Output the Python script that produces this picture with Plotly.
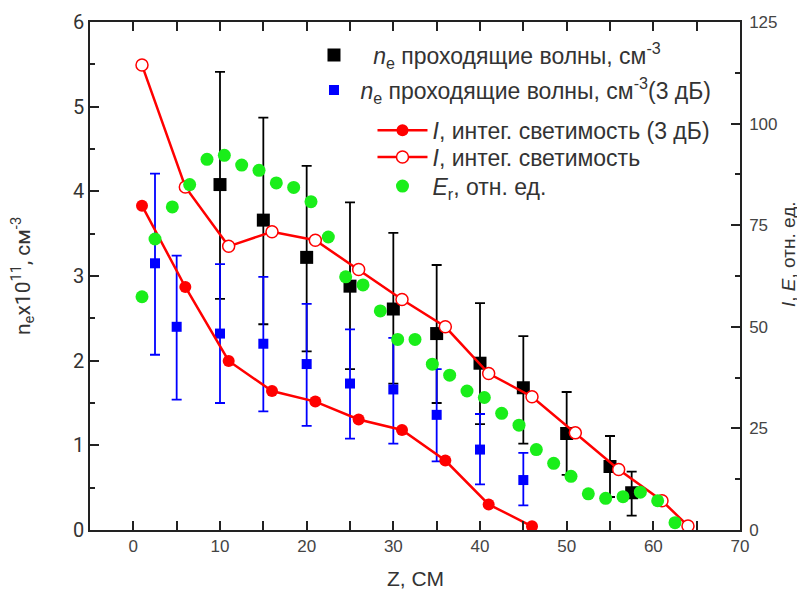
import plotly.graph_objects as go

# ---- data ----
# n_e transmitted waves (black), left axis
ne_x = [10, 15, 20, 25, 30, 35, 40, 45, 50, 55, 57.5]
ne_y = [4.08, 3.66, 3.22, 2.88, 2.61, 2.32, 1.97, 1.68, 1.14, 0.75, 0.44]
ne_err_plus = [1.33, 1.21, 1.08, 0.99, 0.90, 0.81, 0.71, 0.61, 0.49, 0.36, 0.25]
ne_err_minus = [1.35, 1.23, 1.11, 0.98, 0.88, 0.82, 0.72, 0.66, 0.49, 0.36, 0.27]

# n_e transmitted waves (3 dB) (blue), left axis
ne3_x = [2.5, 5, 10, 15, 20, 25, 30, 35, 40, 45]
ne3_y = [3.15, 2.40, 2.32, 2.20, 1.96, 1.73, 1.66, 1.36, 0.95, 0.59]
ne3_err_plus = [1.06, 0.84, 0.82, 0.79, 0.71, 0.64, 0.61, 0.54, 0.42, 0.32]
ne3_err_minus = [1.08, 0.86, 0.82, 0.80, 0.73, 0.65, 0.64, 0.55, 0.41, 0.30]

# I, integrated luminosity (3 dB) (red filled), right axis
i3_x = [1, 6, 11, 16, 21, 26, 31, 36, 41, 46]
i3_y = [79.8, 59.8, 41.6, 34.2, 31.6, 27.2, 24.6, 17.1, 6.3, 0.9]

# I, integrated luminosity (red open), right axis
i_x = [1, 6, 11, 16, 21, 26, 31, 36, 41, 46, 51, 56, 61, 64]
i_y = [114.4, 84.4, 69.8, 73.4, 71.3, 64.1, 56.7, 50.0, 38.5, 32.8, 23.9, 14.9, 7.2, 1.0]

# E_r, relative units (green), right axis
e_x = [1, 2.5, 4.5, 6.5, 8.5, 10.5, 12.5, 14.5, 16.5, 18.5, 20.5, 22.5, 24.5,
       26.5, 28.5, 30.5, 32.5, 34.5, 36.5, 38.5, 40.5, 42.5, 44.5, 46.5, 48.5,
       50.5, 52.5, 54.5, 56.5, 58.5, 60.5, 62.5]
e_y = [57.4, 71.6, 79.5, 85.0, 91.2, 92.2, 89.8, 88.5, 85.4, 84.3, 80.8, 72.1, 62.3,
       60.3, 53.9, 46.9, 46.9, 40.8, 38.1, 34.2, 32.6, 28.7, 25.8, 19.8, 16.4,
       13.2, 8.9, 7.8, 8.2, 9.3, 7.2, 1.8]

x_ticks = [0, 10, 20, 30, 40, 50, 60, 70]
left_ticks = [0, 1, 2, 3, 4, 5, 6]
right_ticks = [0, 25, 50, 75, 100, 125]

LEG_FONT = dict(family="Liberation Sans, Arial, sans-serif", size=23, color="#333333")
AX = "#222222"

fig = go.Figure()

fig.add_trace(go.Scatter(
    x=ne_x, y=ne_y, mode="markers",
    name="   <i>n</i><sub>e</sub> проходящие волны, см<sup>-3</sup>",
    marker=dict(symbol="square", size=13, color="black"),
    error_y=dict(type="data", symmetric=False, array=ne_err_plus, arrayminus=ne_err_minus,
                 color="black", thickness=1.8, width=5),
    legend="legend",
))

fig.add_trace(go.Scatter(
    x=ne3_x, y=ne3_y, mode="markers",
    name=" <i>n</i><sub>e</sub> проходящие волны, см<sup>-3</sup>(3 дБ)",
    marker=dict(symbol="square", size=10, color="#0000ff"),
    error_y=dict(type="data", symmetric=False, array=ne3_err_plus, arrayminus=ne3_err_minus,
                 color="#0000ff", thickness=1.8, width=5),
    legend="legend2",
))

fig.add_trace(go.Scatter(
    x=i3_x, y=i3_y, mode="lines+markers", yaxis="y2",
    name="<i>I</i>, интег. светимость (3 дБ)",
    line=dict(color="#ff0000", width=2.5),
    marker=dict(symbol="circle", size=12, color="#ff0000"),
    legend="legend3",
))

fig.add_trace(go.Scatter(
    x=i_x, y=i_y, mode="lines+markers", yaxis="y2",
    name="<i>I</i>, интег. светимость",
    line=dict(color="#ff0000", width=2.5),
    marker=dict(symbol="circle", size=12, color="white", line=dict(color="#ff0000", width=1.5)),
    legend="legend4",
))

fig.add_trace(go.Scatter(
    x=e_x, y=e_y, mode="markers", yaxis="y2",
    name="<i>E</i><sub>r</sub>, отн. ед.",
    marker=dict(symbol="circle", size=13, color="#1aee1a"),
    legend="legend5",
))

axis_line = dict(showline=True, linecolor=AX, linewidth=1.5, showgrid=False, zeroline=False,
                 automargin=False)


def leg(x, y, w=30):
    return dict(x=x, y=y, xanchor="left", yanchor="middle", bgcolor="rgba(0,0,0,0)",
                font=LEG_FONT, itemwidth=w, borderwidth=0)


# page body has an 8px margin: figure is 797x591 so plot area lands at x 90..740, y 22..530
fig.update_layout(
    width=797, height=591,
    margin=dict(l=82, r=65, t=14, b=69, autoexpand=False),
    paper_bgcolor="white", plot_bgcolor="white",
    showlegend=True,
    xaxis=dict(
        range=[-5, 70], tickvals=x_ticks, ticks="inside", ticklen=9, tickwidth=1.5,
        tickcolor=AX, mirror="ticks",
        minor=dict(dtick=5, tick0=0, ticks="inside", ticklen=9, tickwidth=1.5, tickcolor=AX),
        tickfont=dict(family="Liberation Sans Narrow, Liberation Sans, Arial, sans-serif", size=17, color="#444444"),
        **axis_line,
    ),
    yaxis=dict(
        range=[0, 6], tickvals=left_ticks, ticks="inside", ticklen=9, tickwidth=1.5,
        tickcolor=AX,
        minor=dict(dtick=0.5, tick0=0, ticks="inside", ticklen=5, tickwidth=1.5, tickcolor=AX),
        tickfont=dict(family="Roboto, sans-serif", size=20, color="#333333"),
        **axis_line,
    ),
    yaxis2=dict(
        range=[0, 125], tickvals=right_ticks, overlaying="y", side="right",
        ticks="inside", ticklen=9, tickwidth=1.5, tickcolor=AX,
        minor=dict(dtick=12.5, tick0=0, ticks="inside", ticklen=5, tickwidth=1.5, tickcolor=AX),
        tickfont=dict(family="Liberation Sans, Arial, sans-serif", size=17, color="#444444"),
        ticklabelstandoff=4,
        **axis_line,
    ),
    legend=leg(0.3446, 0.935),
    legend2=leg(0.3446, 0.866),
    legend3=leg(0.4346, 0.787, 50),
    legend4=leg(0.4346, 0.734, 50),
    legend5=leg(0.4346, 0.677, 50),
    annotations=[
        dict(text="Z, СМ", xref="paper", yref="paper", x=0.5, y=-0.0945,
             xanchor="center", yanchor="middle", showarrow=False,
             font=dict(family="Liberation Sans, Arial, sans-serif", size=21, color="#333333")),
        dict(text="n<sub>e</sub>x10<sup>11</sup>, см<sup>-3</sup>", xref="paper", yref="paper",
             x=(22 - 90) / 650, y=0.5, xanchor="center", yanchor="middle", textangle=-90,
             showarrow=False, font=dict(family="Roboto, sans-serif", size=21, color="#333333")),
        dict(text="<i>I</i>, <i>E</i>, отн. ед.", xref="paper", yref="paper",
             x=(789 - 90) / 650, y=(530 - 254) / 508, xanchor="center", yanchor="middle",
             textangle=-90, showarrow=False,
             font=dict(family="Liberation Sans, Arial, sans-serif", size=19, color="#333333")),
    ],
)

fig.write_html("out.html")
